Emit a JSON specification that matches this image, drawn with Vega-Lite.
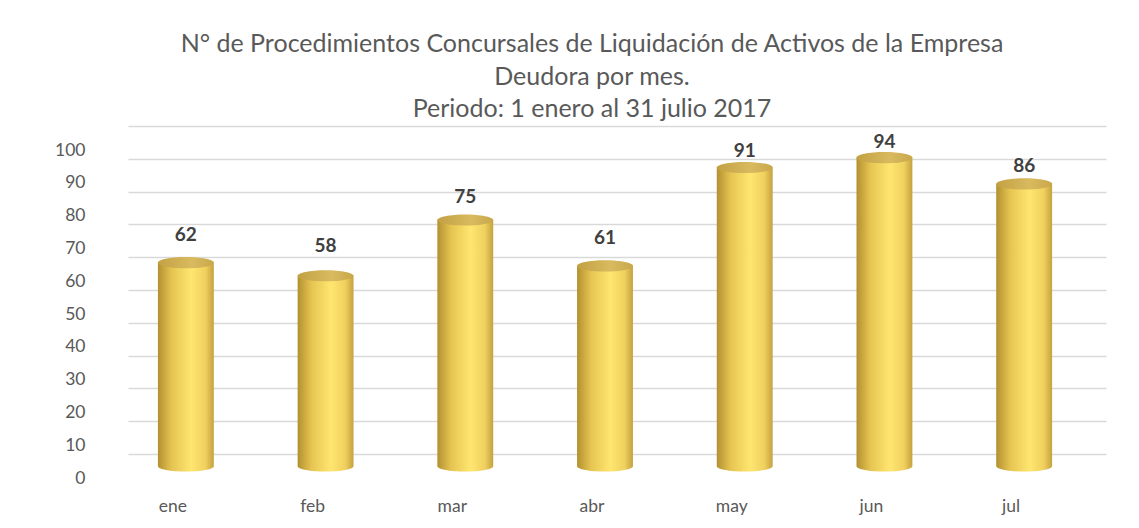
{
  "$schema": "https://vega.github.io/schema/vega-lite/v6.json",
  "width": 978,
  "height": 328,
  "autosize": "none",
  "padding": {"left": 128, "top": 126, "right": 33, "bottom": 74},
  "background": "white",
  "config": {"view": {"stroke": null}, "font": "Lato"},
  "title": {
    "text": ["N° de Procedimientos Concursales de Liquidación de Activos de la Empresa", "Deudora por mes.", "Periodo: 1 enero al 31 julio 2017"],
    "font": "Lato",
    "fontSize": 25,
    "fontWeight": "normal",
    "color": "#595959",
    "lineHeight": 32.5,
    "anchor": "middle",
    "dx": -25,
    "offset": 4
  },
  "data": {"values": [
    {"mes": "ene", "v": 62},
    {"mes": "feb", "v": 58},
    {"mes": "mar", "v": 75},
    {"mes": "abr", "v": 61},
    {"mes": "may", "v": 91},
    {"mes": "jun", "v": 94},
    {"mes": "jul", "v": 86}
  ]},
  "encoding": {
    "x": {
      "field": "mes", "type": "nominal", "sort": null,
      "scale": {"paddingInner": 0, "paddingOuter": 0},
      "axis": {"title": null, "labelAngle": 0, "domain": false, "ticks": false, "tickSize": 0, "labelPadding": 43, "labelOffset": -25, "labelFontSize": 17.5, "labelColor": "#595959", "labelFont": "Lato", "grid": false}
    }
  },
  "resolve": {"scale": {"y": "independent"}, "axis": {"y": "independent"}},
  "layer": [
    {
      "encoding": {
        "y": {
          "field": "v", "type": "quantitative",
          "scale": {"domain": [0, 100]},
          "axis": {"title": null, "values": [0,10,20,30,40,50,60,70,80,90,100], "labelOverlap": false, "domain": false, "ticks": false, "tickSize": 0, "labelPadding": 43, "labelOffset": 24, "labelFontSize": 17.5, "labelColor": "#595959", "labelFont": "Lato", "grid": true, "gridColor": "#d9d9d9", "gridWidth": 1.5}
        }
      },
      "layer": [
        {
          "mark": {"type": "bar", "xOffset": -12, "yOffset": 12, "width": {"band": 0.4},
            "fill": {"gradient": "linear", "x1": 0, "x2": 1, "y1": 0, "y2": 0,
              "stops": [
                {"offset": 0, "color": "#b39030"},
                {"offset": 0.25, "color": "#e6c552"},
                {"offset": 0.6, "color": "#ffe670"},
                {"offset": 0.85, "color": "#f0d05e"},
                {"offset": 1, "color": "#c4a23f"}
              ]}}
        },
        {
          "mark": {"type": "point", "xOffset": -12, "yOffset": 12, "filled": true, "opacity": 1, "size": 3136,
            "shape": "M-1,0 A1,0.2,0,0,0,1,0 Z",
            "fill": {"gradient": "linear", "x1": 0, "x2": 1, "y1": 0, "y2": 0,
              "stops": [
                {"offset": 0, "color": "#b39030"},
                {"offset": 0.25, "color": "#e6c552"},
                {"offset": 0.6, "color": "#ffe670"},
                {"offset": 0.85, "color": "#f0d05e"},
                {"offset": 1, "color": "#c4a23f"}
              ]}},
          "encoding": {"y": {"datum": 0, "type": "quantitative",
            "axis": {"title": null, "values": [0,10,20,30,40,50,60,70,80,90,100], "labelOverlap": false, "domain": false, "ticks": false, "tickSize": 0, "labelPadding": 43, "labelOffset": 24, "labelFontSize": 17.5, "labelColor": "#595959", "labelFont": "Lato", "grid": true, "gridColor": "#d9d9d9", "gridWidth": 1.5}}}
        },
        {
          "mark": {"type": "point", "xOffset": -12, "yOffset": 12, "filled": true, "opacity": 1, "size": 3136,
            "shape": "M-1,0 A1,0.2,0,1,1,1,0 A1,0.2,0,1,1,-1,0 Z",
            "fill": {"gradient": "linear", "x1": 0, "x2": 1, "y1": 0, "y2": 0,
              "stops": [
                {"offset": 0, "color": "#c2a144"},
                {"offset": 0.6, "color": "#d9ba5e"},
                {"offset": 1, "color": "#c9a84c"}
              ]}}
        }
      ]
    },
    {
      "mark": {"type": "text", "xOffset": -12, "baseline": "middle", "align": "center", "font": "Lato", "fontSize": 19, "fontWeight": "bold", "color": "#404040"},
      "encoding": {
        "y": {"field": "v", "type": "quantitative", "scale": {"domain": [-14, 99.7]}, "axis": null},
        "text": {"field": "v", "type": "quantitative"}
      }
    }
  ]
}
